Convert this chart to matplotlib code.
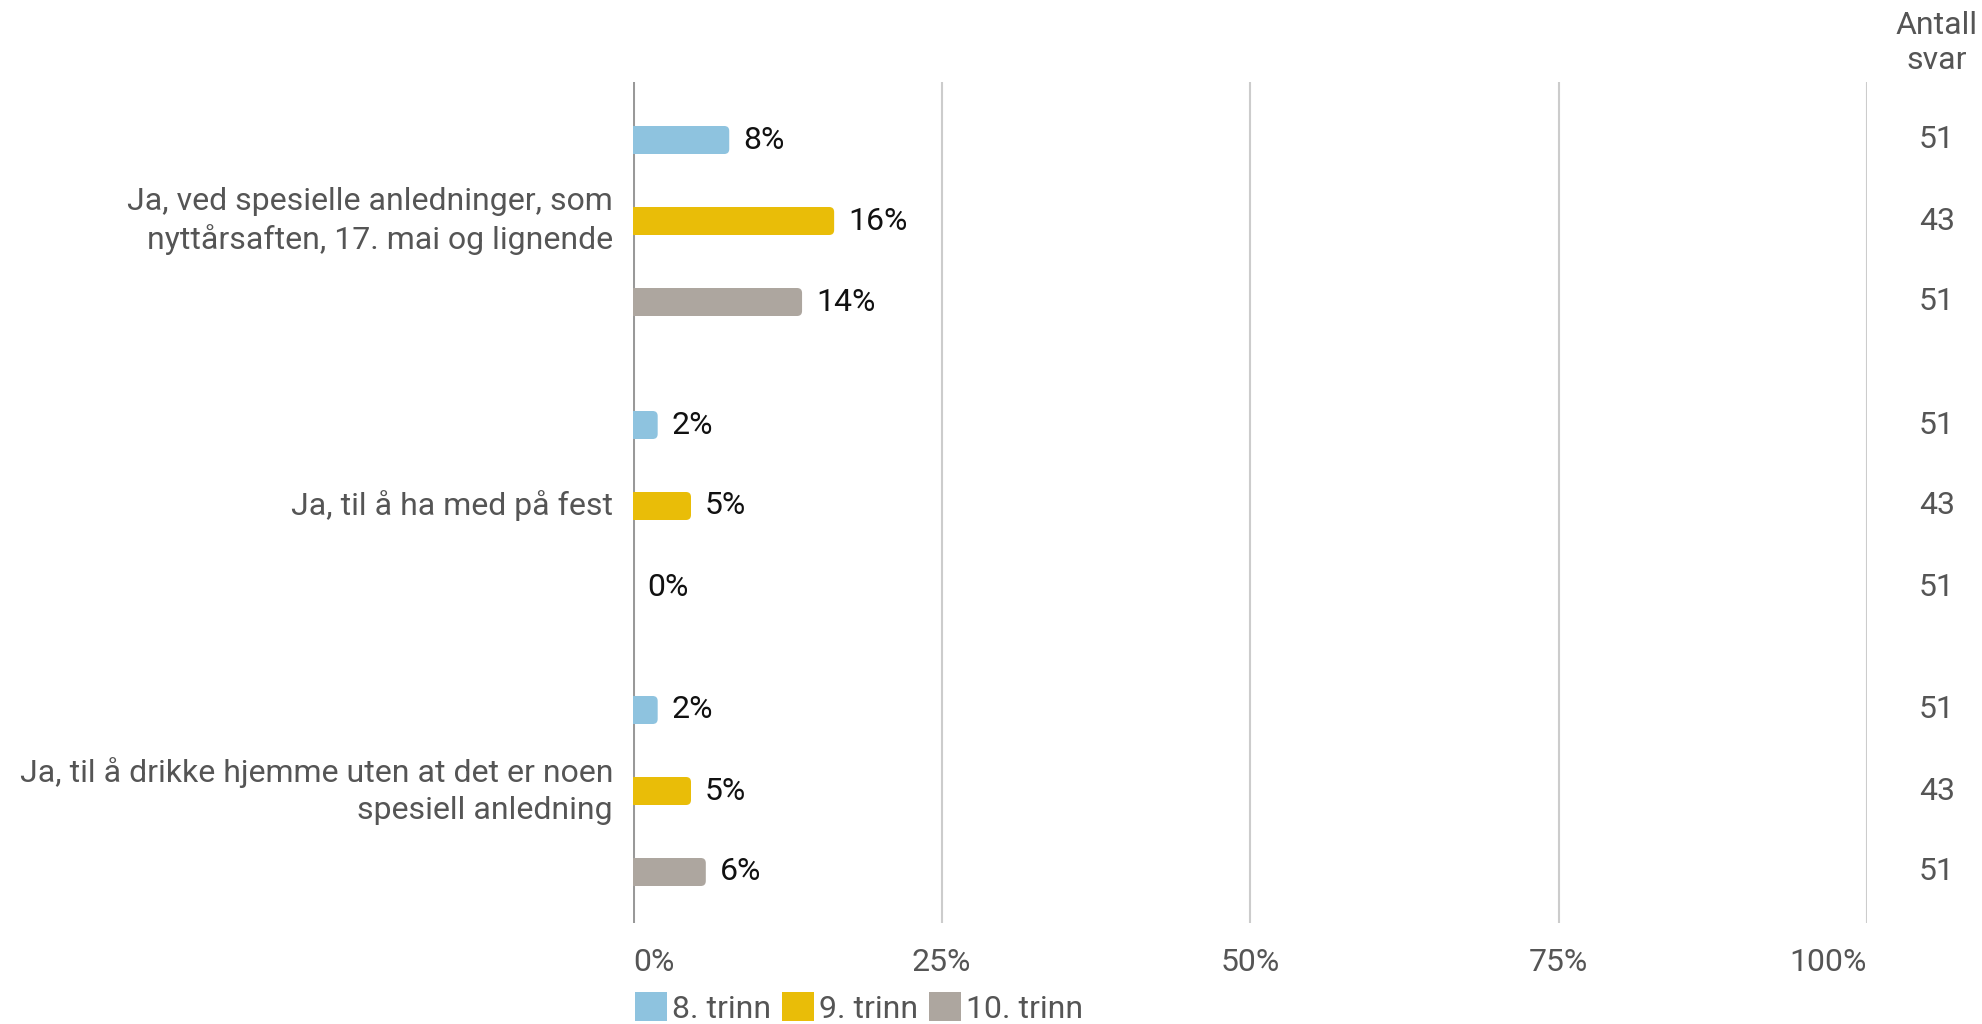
import matplotlib.pyplot as plt
from matplotlib.patches import FancyBboxPatch, Patch

plt.rcParams['font.family'] = ['Roboto', 'DejaVu Sans']

categories = [
    "Ja, ved spesielle anledninger, som\nnyttårsaften, 17. mai og lignende",
    "Ja, til å ha med på fest",
    "Ja, til å drikke hjemme uten at det er noen\nspesiell anledning",
]
series = ["8. trinn", "9. trinn", "10. trinn"]
colors = ["#8EC3DF", "#E9BD08", "#ADA69F"]
# percent per category, one list per series
values = {
    "8. trinn": [7.8, 2.0, 2.0],
    "9. trinn": [16.3, 4.7, 4.7],
    "10. trinn": [13.7, 0.0, 5.9],
}
labels = {
    "8. trinn": ["8%", "2%", "2%"],
    "9. trinn": ["16%", "5%", "5%"],
    "10. trinn": ["14%", "0%", "6%"],
}
counts = {
    "8. trinn": [51, 51, 51],
    "9. trinn": [43, 43, 43],
    "10. trinn": [51, 51, 51],
}
xticks = [0, 25, 50, 75, 100]

FS = 23
W, H = 1982, 1024
fig = plt.figure(figsize=(W / 100, H / 100), dpi=100)
ax_l, ax_r, ax_t, ax_b = 633, 1867, 82, 923
ax = fig.add_axes([ax_l / W, 1 - ax_b / H, (ax_r - ax_l) / W, (ax_b - ax_t) / H])

# y positions in pixel-like units (downwards)
STEP, GROUP = 81, 285
BAR_H = 28
ax.set_xlim(0, 100)
ax.set_ylim(ax_b - 140, ax_t - 140)
px_per_x = (ax_r - ax_l) / 100.0

for gi, cat in enumerate(categories):
    for si, s in enumerate(series):
        y = gi * GROUP + si * STEP
        v = values[s][gi]
        r = 5 / px_per_x
        if v > 0:
            p = FancyBboxPatch((-r * 2, y - BAR_H / 2), v + r * 2, BAR_H,
                               boxstyle=f"round,pad=0,rounding_size={r}",
                               mutation_aspect=px_per_x, fc=colors[si], ec="none",
                               zorder=3, clip_on=True)
            ax.add_patch(p)
        ax.text(v + 14 / px_per_x, y, labels[s][gi], va="center", ha="left",
                fontsize=FS, color="#111111", zorder=4)
        fig.text(1937 / W, 1 - (140 + y) / H, str(counts[s][gi]), ha="center",
                 va="center", fontsize=FS, color="#555555")
    ymid = gi * GROUP + STEP
    ax.text(-20 / px_per_x, ymid, cat, ha="right", va="center", fontsize=FS,
            color="#555555", linespacing=1.32)

for xt in xticks:
    ax.axvline(xt, color="#999999" if xt == 0 else "#CCCCCC",
               lw=2.2 if xt == 0 else 1.5, zorder=1)
ax.set_xticks(xticks)
ax.set_xticklabels([f"{x}%" for x in xticks], fontsize=FS, color="#555555")
tl = ax.get_xticklabels()
tl[0].set_ha("left")
tl[-1].set_ha("right")
ax.tick_params(axis="x", length=0, pad=18)
ax.set_yticks([])
for sp in ax.spines.values():
    sp.set_visible(False)

fig.text(1937 / W, 1 - 43 / H, "Antall\nsvar", ha="center", va="center",
         fontsize=FS, color="#555555", linespacing=1.3)

handles = [Patch(facecolor=c, edgecolor="none", label=s) for s, c in zip(series, colors)]
leg = fig.legend(handles=handles, loc="lower left", bbox_to_anchor=(622 / W, -0.012),
                 ncol=3, frameon=False, fontsize=FS, handlelength=1.0, handleheight=1.0,
                 handletextpad=0.15, columnspacing=0.35, borderaxespad=0)
for t in leg.get_texts():
    t.set_color("#555555")

fig.savefig("out.png", dpi=100)
